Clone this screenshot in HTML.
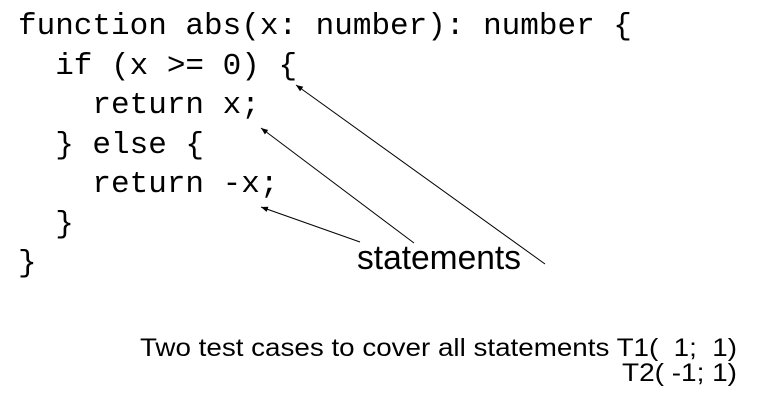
<!DOCTYPE html>
<html><head><style>html,body{margin:0;padding:0;background:#fff;} text{white-space:pre;}</style></head>
<body>
<svg width="764" height="400" xmlns="http://www.w3.org/2000/svg">
<defs><marker id="a" viewBox="0 0 10 10" refX="10" refY="5" markerWidth="7" markerHeight="7" orient="auto"><path d="M0,1 L10,5 L0,9 z" fill="#000"/></marker></defs>
<g font-family="Liberation Mono, monospace" font-size="31" fill="#000">
<text x="18" y="34">function abs(x: number): number {</text>
<text x="18" y="74">  if (x &gt;= 0) {</text>
<text x="18" y="113">    return x;</text>
<text x="18" y="153">  } else {</text>
<text x="18" y="192">    return -x;</text>
<text x="18" y="232">  }</text>
<text x="18" y="271">}</text>
</g>
<g stroke="#000" stroke-width="1" fill="none">
<line x1="545" y1="264" x2="296" y2="85" marker-end="url(#a)"/>
<line x1="414" y1="243" x2="261" y2="128" marker-end="url(#a)"/>
<line x1="360" y1="242" x2="261" y2="207" marker-end="url(#a)"/>
</g>
<text x="357" y="269" font-family="Liberation Sans, sans-serif" font-size="34" textLength="164" lengthAdjust="spacingAndGlyphs">statements</text>
<g font-family="Liberation Sans, sans-serif" font-size="25">
<text x="140" y="356" textLength="597" lengthAdjust="spacingAndGlyphs">Two test cases to cover all statements T1(  1;  1)</text>
<text x="622" y="381" textLength="115" lengthAdjust="spacingAndGlyphs">T2( -1; 1)</text>
</g>
</svg>
</body></html>
